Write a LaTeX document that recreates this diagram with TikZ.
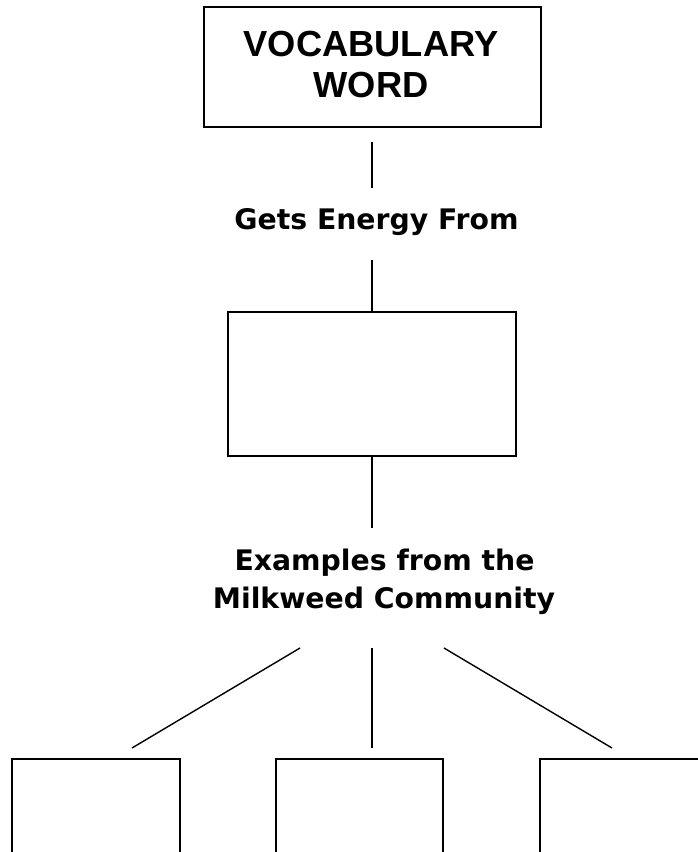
\documentclass[tikz,border=0pt]{standalone}
\usepackage{fontspec}
\usepackage{tikz}
\usepackage{xcolor}

\setmainfont{DejaVu Sans}
\newfontfamily\wordfont{Liberation Sans}

\tikzset{
    mapbox/.style={draw, line width=1.7pt, rectangle, inner sep=0pt},
    mapline/.style={line width=1.4pt},
    maplabel/.style={anchor=base, inner sep=0pt, font=\fontsize{28.3}{40}\selectfont\bfseries}
}

\begin{document}
\begin{tikzpicture}[x=1pt, y=-1pt]
        % --- Page ---
        \useasboundingbox (0, 0) rectangle (698, 852);
        \clip (0, 0) rectangle (698, 852);

        % --- Vocabulary word ---
        \node[mapbox, minimum width=337pt, minimum height=120pt] (word) at (372.5, 67) {};
        \node[align=center, inner sep=0pt, font=\wordfont\fontsize{36.3}{41}\selectfont\bfseries]
            (wordtext) at (371, 64) {VOCABULARY\\WORD};

        % --- Energy source ---
        \coordinate (e1) at (372, 142);
        \coordinate (e2) at (372, 188);
        \draw[mapline] (e1) -- (e2);
        \node[maplabel] (energy) at (376.5, 229) {Gets Energy From};

        \coordinate (s1) at (372, 260);
        \draw[mapline] (s1) -- (372, 312);
        \node[mapbox, minimum width=288pt, minimum height=144pt] (source) at (372, 384) {};

        % --- Examples ---
        \coordinate (x1) at (372, 528);
        \draw[mapline] (source.south) -- (x1);
        \node[maplabel] (examples) at (384.5, 570) {Examples from the};
        \node[maplabel] (community) at (384, 608) {Milkweed Community};

        % Three branches down to the example boxes
        \coordinate (bl) at (300, 648);
        \coordinate (bm) at (372, 648);
        \coordinate (br) at (444, 648);
        \coordinate (tl) at (132, 748);
        \coordinate (tm) at (372, 748);
        \coordinate (tr) at (612, 748);
        \draw[mapline] (bl) -- (tl);
        \draw[mapline] (bm) -- (tm);
        \draw[mapline] (br) -- (tr);

        % Boxes run off the bottom of the page
        \node[mapbox, minimum width=168pt, minimum height=142pt] (left)   at (96, 830)    {};
        \node[mapbox, minimum width=167pt, minimum height=142pt] (middle) at (359.5, 830) {};
        \node[mapbox, minimum width=168pt, minimum height=142pt] (right)  at (624, 830)   {};

    \end{tikzpicture}
\end{document}
